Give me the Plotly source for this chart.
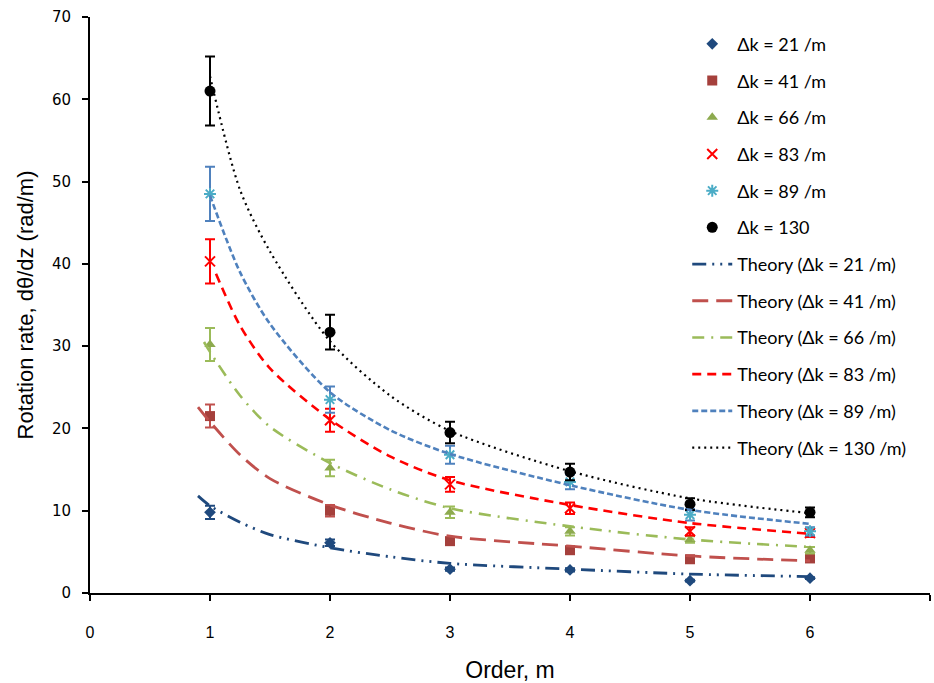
import plotly.graph_objects as go

# ---- data ----
orders = [1, 2, 3, 4, 5, 6]
dk_labels = ["21", "41", "66", "83", "89", "130"]

meas_21 = [9.8, 6.1, 2.9, 2.8, 1.5, 1.8]
meas_41 = [21.5, 10.0, 6.3, 5.2, 4.1, 4.2]
meas_66 = [30.2, 15.2, 9.8, 7.5, 6.5, 5.2]
meas_83 = [40.3, 21.0, 13.2, 10.3, 7.5, 7.3]
meas_89 = [48.5, 23.5, 16.8, 13.5, 9.5, 7.5]
meas_130 = [61.0, 31.7, 19.5, 14.7, 10.8, 9.8]

err_21 = [0.8, 0.4, 0.2, 0.2, 0.1, 0.1]
err_41 = [1.4, 0.7, 0.4, 0.4, 0.3, 0.3]
err_66 = [2.0, 1.0, 0.7, 0.5, 0.4, 0.4]
err_83 = [2.7, 1.4, 0.9, 0.7, 0.5, 0.5]
err_89 = [3.3, 1.6, 1.1, 0.9, 0.7, 0.5]
err_130 = [4.2, 2.1, 1.3, 1.0, 0.7, 0.6]

th_x_21 = [0.9, 1.0, 1.25, 1.5, 2.0, 2.5, 3.0, 4.0, 5.0, 6.0]
th_21 = [11.8, 10.6, 8.6, 7.1, 5.5, 4.4, 3.6, 2.9, 2.3, 2.0]
th_x_41 = [0.9, 1.0, 1.25, 1.5, 2.0, 2.5, 3.0, 4.0, 5.0, 6.0]
th_41 = [22.6, 20.8, 16.8, 13.9, 10.7, 8.5, 6.9, 5.7, 4.5, 3.9]
th_x_66 = [0.95, 1.0, 1.25, 1.5, 2.0, 2.5, 3.0, 4.0, 5.0, 6.0]
th_66 = [30.5, 29.3, 24.0, 20.2, 15.8, 12.6, 10.3, 8.1, 6.5, 5.6]
th_x_83 = [1.05, 1.25, 1.5, 2.0, 2.5, 3.0, 4.0, 5.0, 6.0]
th_83 = [38.8, 32.5, 27.3, 21.1, 16.6, 13.7, 10.7, 8.5, 7.2]
th_x_89 = [1.0, 1.25, 1.5, 2.0, 2.5, 3.0, 4.0, 5.0, 6.0]
th_89 = [48.3, 39.0, 32.7, 24.4, 19.8, 16.9, 13.1, 10.1, 8.4]
th_x_130 = [1.0, 1.25, 1.5, 2.0, 2.5, 3.0, 4.0, 5.0, 6.0]
th_130 = [62.8, 49.0, 41.5, 30.6, 24.0, 19.7, 14.8, 11.5, 9.7]

x_ticks = [0, 1, 2, 3, 4, 5, 6, 7]
y_ticks = [0, 10, 20, 30, 40, 50, 60, 70]

# ---- styles ----
meas = [meas_21, meas_41, meas_66, meas_83, meas_89, meas_130]
errs = [err_21, err_41, err_66, err_83, err_89, err_130]
ths = [(th_x_21, th_21), (th_x_41, th_41), (th_x_66, th_66),
       (th_x_83, th_83), (th_x_89, th_89), (th_x_130, th_130)]

marker_syms = ["diamond", "square", "triangle-up", "x-thin", "asterisk", "circle"]
marker_cols = ["#1F497D", "#A5403C", "#8DAA4E", "#FF0000", "#4BACC6", "#000000"]
marker_sizes = [9, 10, 10, 10, 10, 11]
err_cols = ["#1F497D", "#C0504D", "#9BBB59", "#FF0000", "#4F81BD", "#000000"]
line_cols = ["#1F497D", "#C0504D", "#9BBB59", "#FF0000", "#4F81BD", "#000000"]
line_dash = ["14px,6px,2px,6px,2px,6px", "16px,8px", "12px,7px,2px,7px",
             "9px,6px", "6px,3px", "2px,4px"]
line_w = [2.8, 2.8, 2.6, 2.6, 2.6, 2.2]

fig = go.Figure()

for i, lab in enumerate(dk_labels):
    name = f"Δk = {lab} /m" if lab != "130" else "Δk = 130"
    sym = marker_syms[i]
    mk = dict(symbol=sym, color=marker_cols[i], size=marker_sizes[i])
    if sym in ("x-thin", "asterisk"):
        mk["line"] = dict(color=marker_cols[i], width=2)
    fig.add_trace(go.Scatter(
        x=orders, y=meas[i], mode="markers", name=name, marker=mk,
        error_y=dict(type="data", array=errs[i], visible=True,
                     color=err_cols[i], thickness=2, width=5),
        legendgroup=f"m{i}", cliponaxis=False,
    ))

for i, lab in enumerate(dk_labels):
    tx, ty = ths[i]
    fig.add_trace(go.Scatter(
        x=tx, y=ty, mode="lines", name=f"Theory (Δk = {lab} /m)",
        line=dict(color=line_cols[i], dash=line_dash[i], width=line_w[i],
                  shape="spline", smoothing=0.8),
        legendgroup=f"t{i}",
    ))

fig.update_layout(
    width=934, height=683,
    margin=dict(l=90, r=4, t=17, b=86),
    paper_bgcolor="white", plot_bgcolor="white",
    showlegend=True,
    legend=dict(
        x=0.711, y=0.985, xanchor="left", yanchor="top",
        font=dict(family="Lato, Carlito, Calibri, sans-serif", size=18, color="#000000"),
        bgcolor="rgba(0,0,0,0)", tracegroupgap=10.3, itemwidth=40,
    ),
    xaxis=dict(
        range=[0, 7], tickvals=x_ticks, ticktext=[str(v) for v in x_ticks],
        showgrid=False, zeroline=False, showline=True, linecolor="#000000", linewidth=2,
        ticks="outside", ticklen=6, tickwidth=1.5, tickcolor="#000000",
        ticklabelstandoff=18,
        tickfont=dict(family="Liberation Sans Narrow, Arial Narrow, sans-serif", size=16, color="#000000"),
        title=dict(text="Order, m", standoff=22,
                   font=dict(family="Liberation Sans Narrow, Arial Narrow, sans-serif", size=23, color="#000000")),
    ),
    yaxis=dict(
        range=[0, 70], tickvals=y_ticks, ticktext=[str(v) for v in y_ticks],
        showgrid=False, zeroline=False, showline=True, linecolor="#000000", linewidth=2,
        ticks="outside", ticklen=6, tickwidth=1.5, tickcolor="#000000",
        ticklabelstandoff=8,
        tickfont=dict(family="DejaVu Sans, Verdana, sans-serif", size=15, color="#000000"),
        title=dict(text="Rotation rate, dθ/dz (rad/m)", standoff=12,
                   font=dict(family="Liberation Sans Narrow, Arial Narrow, sans-serif", size=22, color="#000000")),
    ),
)

fig.write_html("out.html")
